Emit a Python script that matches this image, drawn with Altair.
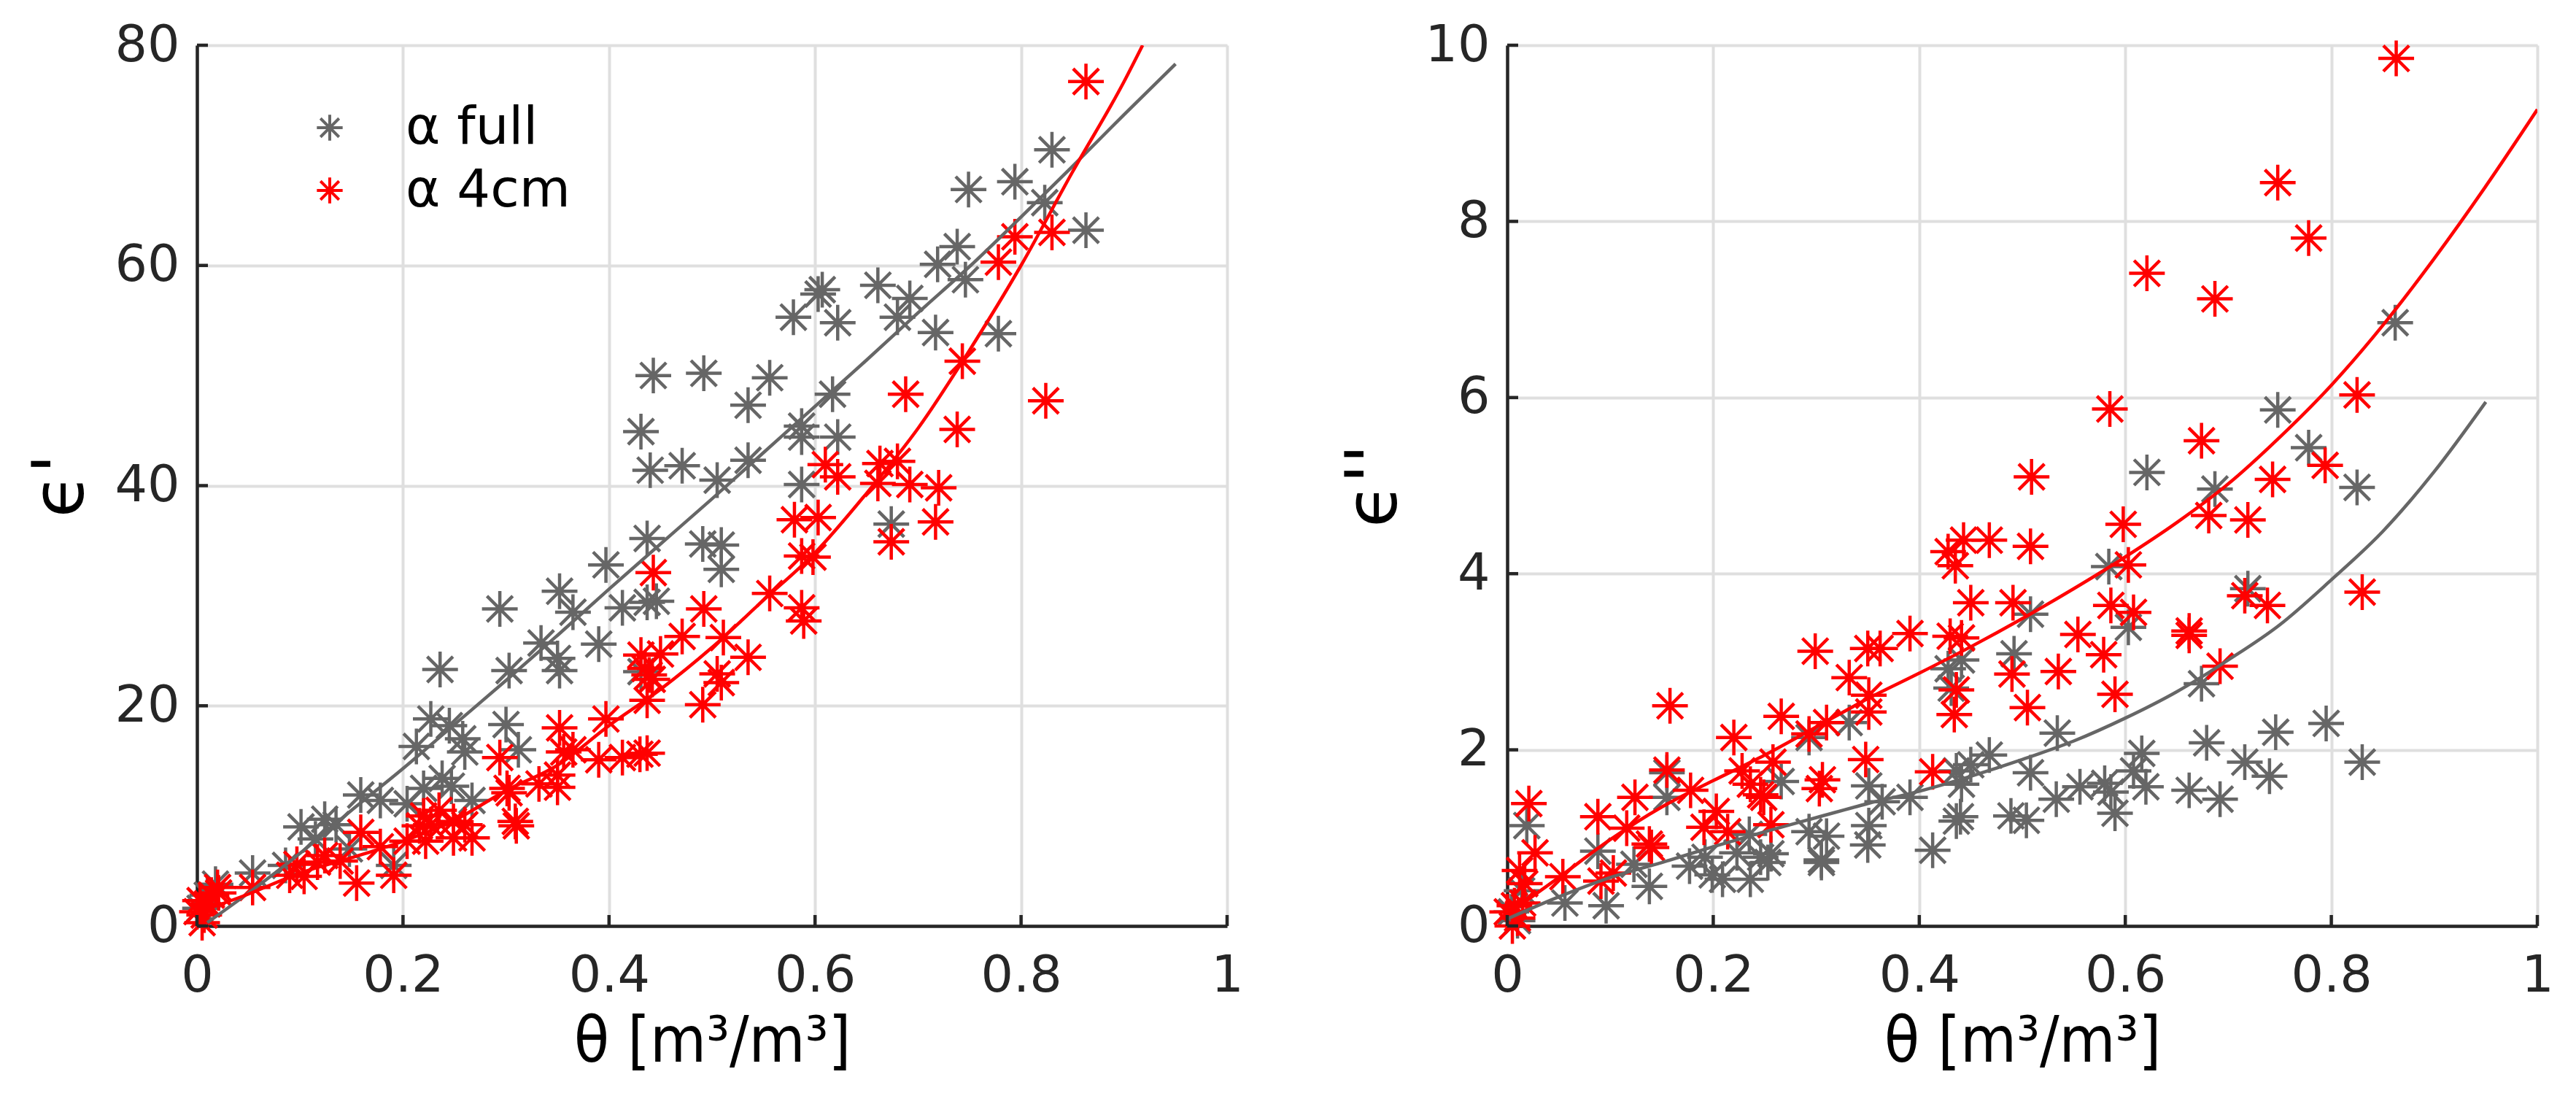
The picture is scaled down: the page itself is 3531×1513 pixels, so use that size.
import altair as alt
import pandas as pd

# ---------------- values ----------------
# left panel: real permittivity eps' vs theta
left_full_theta = [0.863, 0.830, 0.823, 0.794, 0.749, 0.778, 0.738, 0.719, 0.746, 0.717,
                   0.692, 0.680, 0.661, 0.607, 0.603, 0.622, 0.579, 0.617, 0.622, 0.587,
                   0.587, 0.587, 0.674, 0.556, 0.535, 0.492, 0.443, 0.431, 0.440, 0.471,
                   0.505, 0.535, 0.437, 0.491, 0.509, 0.509, 0.397, 0.413, 0.437, 0.446,
                   0.352, 0.365, 0.294, 0.334, 0.350, 0.352, 0.390, 0.303, 0.236, 0.431,
                   0.227, 0.245, 0.258, 0.260, 0.300, 0.312, 0.213, 0.220, 0.238, 0.247,
                   0.267, 0.159, 0.178, 0.204, 0.191, 0.101, 0.124, 0.135, 0.115, 0.148,
                   0.086, 0.054, 0.018, 0.010, 0.003]
left_full_eps = [63.2, 70.5, 65.7, 67.6, 66.9, 53.8, 61.7, 60.1, 58.7, 53.9,
                 57.0, 55.3, 58.2, 57.8, 57.4, 54.8, 55.3, 48.3, 44.4, 45.4,
                 44.4, 40.1, 36.5, 49.8, 47.3, 50.2, 50.0, 44.9, 41.4, 41.8,
                 40.5, 42.3, 35.2, 34.7, 34.6, 32.4, 32.8, 28.9, 29.4, 29.5,
                 30.4, 28.5, 28.8, 25.7, 24.3, 23.2, 25.6, 23.2, 23.3, 23.1,
                 18.8, 18.2, 17.0, 15.8, 18.3, 16.0, 16.3, 12.5, 13.4, 12.7,
                 11.4, 11.9, 11.4, 11.1, 5.5, 9.0, 9.7, 9.2, 7.9, 7.0,
                 5.5, 4.8, 3.8, 2.8, 1.6]

left_4cm_theta = [0.863, 0.830, 0.794, 0.778, 0.743, 0.824, 0.688, 0.738, 0.663, 0.680,
                  0.610, 0.622, 0.661, 0.692, 0.720, 0.580, 0.603, 0.717, 0.674, 0.587,
                  0.598, 0.556, 0.587, 0.589, 0.443, 0.492, 0.471, 0.511, 0.535, 0.431,
                  0.450, 0.435, 0.439, 0.442, 0.505, 0.509, 0.437, 0.491, 0.352, 0.397,
                  0.356, 0.365, 0.390, 0.413, 0.430, 0.437, 0.294, 0.332, 0.350, 0.350,
                  0.301, 0.303, 0.309, 0.310, 0.220, 0.235, 0.249, 0.260, 0.267, 0.249,
                  0.216, 0.227, 0.204, 0.222, 0.178, 0.159, 0.155, 0.191, 0.139, 0.124,
                  0.117, 0.090, 0.097, 0.104, 0.054, 0.020, 0.021, 0.014, 0.003, 0.000,
                  0.007, 0.010, 0.005]
left_4cm_eps = [76.7, 63.0, 62.6, 60.3, 51.3, 47.7, 48.3, 45.1, 42.0, 42.2,
                41.9, 40.8, 40.2, 40.1, 39.8, 36.9, 37.1, 36.7, 34.9, 33.6,
                33.5, 30.2, 28.9, 27.7, 32.1, 28.8, 26.3, 26.2, 24.4, 24.6,
                24.7, 23.4, 22.8, 22.4, 22.9, 22.1, 20.5, 20.1, 18.0, 18.8,
                15.8, 16.0, 15.1, 15.3, 15.6, 15.7, 15.3, 12.9, 12.6, 13.7,
                12.5, 12.1, 9.5, 9.1, 10.0, 10.5, 9.5, 9.2, 8.0, 8.0,
                9.1, 9.2, 7.7, 7.7, 7.2, 8.5, 3.9, 4.6, 5.9, 6.4,
                5.8, 4.6, 5.6, 4.5, 3.5, 3.5, 3.0, 2.8, 2.3, 1.3,
                1.0, 2.0, 0.3]

# fitted curves, left panel
left_full_fit_theta = [0.01, 0.05, 0.1, 0.15, 0.2, 0.25, 0.3, 0.35, 0.4, 0.45,
                       0.5, 0.55, 0.6, 0.65, 0.7, 0.75, 0.8, 0.85, 0.9, 0.95]
left_full_fit_eps = [0.3, 3.0, 6.6, 10.5, 14.3, 18.3, 22.3, 26.4, 30.6, 34.7,
                     38.8, 43.0, 47.2, 51.4, 55.7, 59.9, 64.4, 69.0, 73.7, 78.3]
left_4cm_fit_theta = [0.0, 0.05, 0.1, 0.15, 0.2, 0.25, 0.3, 0.35, 0.4, 0.45,
                      0.5, 0.55, 0.6, 0.65, 0.7, 0.75, 0.8, 0.85, 0.9, 0.918]
left_4cm_fit_eps = [1.2, 2.9, 4.8, 6.2, 7.7, 9.6, 12.3, 14.6, 18.2, 21.5,
                    25.3, 29.6, 33.9, 39.3, 45.2, 52.3, 60.0, 68.5, 76.7, 80.0]

# right panel: imaginary permittivity eps'' vs theta
right_full_theta = [0.862, 0.748, 0.778, 0.825, 0.621, 0.687, 0.584, 0.603, 0.719, 0.508,
                    0.674, 0.492, 0.441, 0.428, 0.431, 0.534, 0.746, 0.795, 0.830, 0.679,
                    0.616, 0.716, 0.740, 0.662, 0.692, 0.608, 0.620, 0.580, 0.586, 0.590,
                    0.556, 0.533, 0.508, 0.468, 0.450, 0.436, 0.441, 0.440, 0.436, 0.489,
                    0.504, 0.413, 0.391, 0.364, 0.351, 0.351, 0.350, 0.332, 0.293, 0.266,
                    0.293, 0.310, 0.305, 0.305, 0.235, 0.223, 0.246, 0.256, 0.236, 0.253,
                    0.209, 0.192, 0.177, 0.199, 0.155, 0.155, 0.123, 0.138, 0.088, 0.056,
                    0.096, 0.019, 0.014, 0.010, 0.004]
right_full_eps = [6.85, 5.86, 5.43, 4.98, 5.15, 4.96, 4.08, 3.39, 3.83, 3.54,
                  2.75, 3.09, 3.02, 2.92, 2.70, 2.19, 2.20, 2.30, 1.86, 2.08,
                  1.96, 1.86, 1.70, 1.54, 1.44, 1.76, 1.58, 1.62, 1.52, 1.28,
                  1.58, 1.44, 1.74, 1.94, 1.83, 1.76, 1.61, 1.24, 1.19, 1.25,
                  1.20, 0.86, 1.46, 1.41, 1.59, 1.14, 0.92, 2.31, 2.14, 1.64,
                  1.07, 1.02, 0.75, 0.72, 1.04, 0.83, 0.78, 0.82, 0.53, 0.72,
                  0.53, 0.78, 0.68, 0.58, 1.74, 1.46, 0.70, 0.45, 0.85, 0.26,
                  0.23, 1.14, 0.40, 0.06, 0.16]

right_4cm_theta = [0.863, 0.748, 0.778, 0.621, 0.687, 0.585, 0.825, 0.674, 0.794, 0.509,
                   0.743, 0.598, 0.681, 0.719, 0.508, 0.603, 0.830, 0.586, 0.608, 0.716,
                   0.738, 0.491, 0.554, 0.662, 0.662, 0.692, 0.535, 0.579, 0.490, 0.505,
                   0.590, 0.428, 0.443, 0.468, 0.435, 0.450, 0.391, 0.350, 0.362, 0.430,
                   0.441, 0.299, 0.332, 0.351, 0.351, 0.436, 0.434, 0.266, 0.310, 0.293,
                   0.220, 0.158, 0.348, 0.413, 0.258, 0.228, 0.236, 0.246, 0.249, 0.306,
                   0.303, 0.155, 0.178, 0.124, 0.088, 0.116, 0.138, 0.140, 0.203, 0.191,
                   0.214, 0.256, 0.021, 0.027, 0.012, 0.017, 0.054, 0.091, 0.103, 0.007,
                   0.000, 0.010, 0.005, 0.015]
right_4cm_eps = [9.85, 8.44, 7.81, 7.41, 7.12, 5.87, 6.03, 5.51, 5.23, 5.10,
                 5.07, 4.56, 4.66, 4.61, 4.31, 4.10, 3.79, 3.64, 3.56, 3.75,
                 3.64, 3.67, 3.31, 3.30, 3.35, 2.95, 2.89, 3.08, 2.86, 2.48,
                 2.63, 4.25, 4.38, 4.38, 4.09, 3.67, 3.32, 3.15, 3.15, 3.29,
                 3.27, 3.12, 2.82, 2.62, 2.43, 2.68, 2.40, 2.38, 2.31, 2.18,
                 2.14, 2.50, 1.89, 1.75, 1.86, 1.76, 1.61, 1.49, 1.46, 1.66,
                 1.56, 1.77, 1.54, 1.46, 1.24, 1.11, 0.93, 0.89, 1.30, 1.12,
                 1.07, 1.15, 1.39, 0.83, 0.63, 0.48, 0.56, 0.51, 0.60, 0.23,
                 0.16, 0.09, 0.00, 0.26]

# fitted curves, right panel
fit_theta = [0.0, 0.05, 0.1, 0.15, 0.2, 0.25, 0.3, 0.35, 0.4, 0.45,
             0.5, 0.55, 0.6, 0.65, 0.7, 0.75, 0.8, 0.85, 0.9, 0.95, 1.0]
right_4cm_fit_eps = [0.13, 0.55, 0.98, 1.35, 1.65, 1.94, 2.26, 2.58, 2.87, 3.17,
                     3.49, 3.83, 4.19, 4.58, 5.02, 5.55, 6.14, 6.82, 7.58, 8.40, 9.27]
right_full_fit_eps = [0.08, 0.33, 0.55, 0.72, 0.90, 1.07, 1.23, 1.39, 1.53, 1.70,
                      1.89, 2.10, 2.36, 2.66, 3.02, 3.42, 3.93, 4.48, 5.16, 5.95]

series_names = ["α full", "α 4cm"]
x_ticks = [0, 0.2, 0.4, 0.6, 0.8, 1]
left_y_ticks = [0, 20, 40, 60, 80]
right_y_ticks = [0, 2, 4, 6, 8, 10]

GRAY = "#666666"
RED = "#ff0000"
INK = "#262626"
FONT = "DejaVu Sans"
TITLE_FONT = "DejaVu Sans Condensed, DejaVu Sans"
STAR = "M-1,0L1,0M0,-1L0,1M-0.72,-0.72L0.72,0.72M-0.72,0.72L0.72,-0.72"

W, H = 1412, 1207
TICK = 15
STAR_SIZE = 2400

left_pts = pd.concat([
    pd.DataFrame({"theta": left_full_theta, "eps": left_full_eps, "series": series_names[0]}),
    pd.DataFrame({"theta": left_4cm_theta, "eps": left_4cm_eps, "series": series_names[1]}),
])


def x_axis():
    return alt.Axis(values=x_ticks, format="~g", title="θ [m³/m³]", grid=True,
                    gridColor="#dfdfdf", gridWidth=4, domainColor=INK, domainWidth=4.5,
                    ticks=False, labelFont=FONT, labelFontSize=70, labelColor=INK,
                    labelFlush=False, labelPadding=34, titleFont=TITLE_FONT,
                    titleFontSize=88, titleFontWeight="normal", titleColor="#000000",
                    titlePadding=12)


def y_axis(ticks, title, title_pad):
    return alt.Axis(values=ticks, format="~g", title=title, grid=True,
                    gridColor="#dfdfdf", gridWidth=4, domainColor=INK, domainWidth=4.5,
                    ticks=False, labelFont=FONT, labelFontSize=70, labelColor=INK,
                    labelFlush=False, labelPadding=24, titleFont=FONT, titleFontSize=98,
                    titleFontWeight="normal", titleColor="#000000", titlePadding=title_pad)


def panel(pts_layers, fits, y_ticks, y_max, y_title, title_pad):
    xs = alt.Scale(domain=[0, 1], nice=False, zero=False)
    ys = alt.Scale(domain=[0, y_max], nice=False)
    base_x = alt.X("theta:Q", scale=xs, axis=x_axis())
    base_y = alt.Y("eps:Q", scale=ys, axis=y_axis(y_ticks, y_title, title_pad))

    layers = []
    for lay in pts_layers:
        layers.append(lay.encode(x=base_x, y=base_y))
    for df, col in fits:
        layers.append(
            alt.Chart(df).mark_line(color=col, strokeWidth=4.5, interpolate="monotone", clip=True)
            .encode(x=alt.X("theta:Q", scale=xs), y=alt.Y("eps:Q", scale=ys))
        )
    # inward tick marks, as in the original figure
    layers.append(
        alt.Chart(pd.DataFrame({"t": x_ticks})).mark_rule(color=INK, strokeWidth=4.5)
        .encode(x=alt.X("t:Q", scale=xs), y=alt.value(H), y2=alt.value(H - TICK))
    )
    layers.append(
        alt.Chart(pd.DataFrame({"t": y_ticks})).mark_rule(color=INK, strokeWidth=4.5)
        .encode(y=alt.Y("t:Q", scale=ys), x=alt.value(0), x2=alt.value(TICK))
    )
    return alt.layer(*layers).properties(width=W, height=H)


left_points = alt.Chart(left_pts).mark_point(
    shape=STAR, filled=False, size=STAR_SIZE, strokeWidth=4.5, opacity=1
).encode(
    color=alt.Color(
        "series:N",
        scale=alt.Scale(domain=series_names, range=[GRAY, RED]),
        legend=alt.Legend(
            title=None, orient="none", legendX=146, legendY=77, padding=0,
            symbolType=STAR, symbolSize=1250, symbolStrokeWidth=4,
            labelFont=FONT, labelFontSize=72, labelColor="#000000", labelLimit=1000,
            labelOffset=68, rowPadding=14,
        ),
    ),
)

left = panel(
    [left_points],
    [(pd.DataFrame({"theta": left_full_fit_theta, "eps": left_full_fit_eps}), GRAY),
     (pd.DataFrame({"theta": left_4cm_fit_theta, "eps": left_4cm_fit_eps}), RED)],
    left_y_ticks, 80, "ϵ'", 22,
)

right_gray = alt.Chart(pd.DataFrame({"theta": right_full_theta, "eps": right_full_eps})).mark_point(
    shape=STAR, filled=False, size=STAR_SIZE, strokeWidth=4.5, opacity=1, color=GRAY)
right_red = alt.Chart(pd.DataFrame({"theta": right_4cm_theta, "eps": right_4cm_eps})).mark_point(
    shape=STAR, filled=False, size=STAR_SIZE, strokeWidth=4.5, opacity=1, color=RED)

right = panel(
    [right_gray, right_red],
    [(pd.DataFrame({"theta": fit_theta[:20], "eps": right_full_fit_eps}), GRAY),
     (pd.DataFrame({"theta": fit_theta, "eps": right_4cm_fit_eps}), RED)],
    right_y_ticks, 10, "ϵ''", 18,
)

chart = alt.hconcat(left, right, spacing=130).resolve_scale(
    color="independent"
).properties(
    padding={"left": 27, "top": 18, "right": 5, "bottom": 5}
).configure_view(stroke=None).configure(background="white")

chart.save("out.html", embed_options={"renderer": "svg", "actions": False})
